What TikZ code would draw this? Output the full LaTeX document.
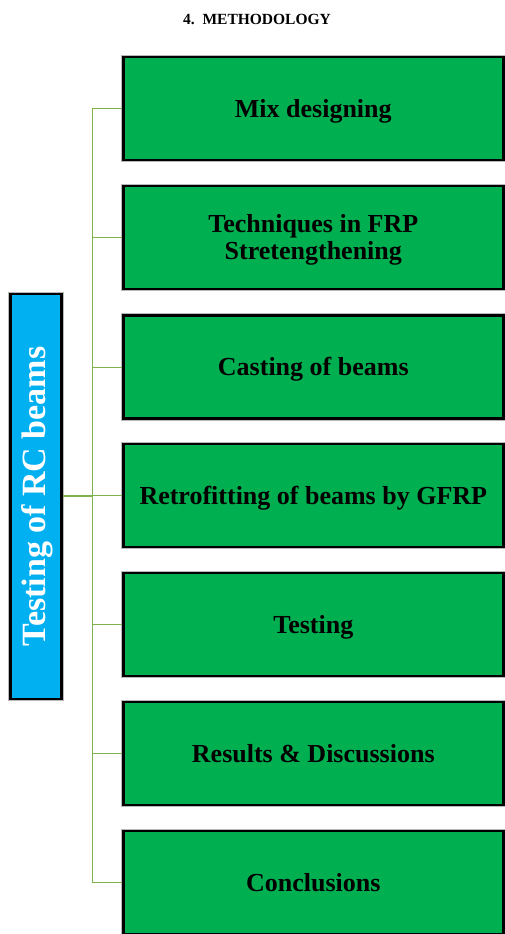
\documentclass[tikz,border=0pt]{standalone}
\usepackage{fontspec}
\setmainfont{Liberation Serif}
\definecolor{boxgreen}{HTML}{00B050}
\definecolor{boxblue}{HTML}{00B0F0}
\definecolor{linegreen}{HTML}{7FB24F}
\tikzset{
  stepbox/.style={draw=black, line width=2.6pt, fill=boxgreen,
    preaction={draw=gray!55, line width=4.6pt},
    minimum width=380pt, minimum height=103pt, inner sep=0pt,
    text height=17.4pt, text depth=0pt,
    font=\bfseries\fontsize{26}{27}\selectfont, align=center, anchor=west},
  mainbox/.style={draw=black, line width=2.6pt, fill=boxblue,
    preaction={draw=gray!55, line width=4.6pt},
    minimum width=51pt, minimum height=405pt, inner sep=0pt},
  conn/.style={draw=linegreen, line width=0.9pt},
  mainconn/.style={draw=linegreen, line width=2pt}
}
\begin{document}
\begin{tikzpicture}[x=1pt,y=-1pt]
\useasboundingbox[fill=white] (0,0) rectangle (504,934);
\node[font=\bfseries\fontsize{15.5}{18}\selectfont] (title) at (257,19) {4.\enspace METHODOLOGY};
\node[mainbox] (main) at (36,496.5) {};
\node[rotate=90, text=white, font=\bfseries\fontsize{34}{38}\selectfont] (maintext) at (37,496.5) {Testing of RC beams};
\node[stepbox] (b1) at (122,108.5) {Mix designing};
\node[stepbox, text height=44.4pt] (b2) at (122,237.5) {Techniques in FRP\\Stretengthening};
\node[stepbox] (b3) at (122,367) {Casting of beams};
\node[stepbox] (b4) at (122,495.5) {Retrofitting of beams by GFRP};
\node[stepbox] (b5) at (122,624.5) {Testing};
\node[stepbox] (b6) at (122,753.5) {Results \& Discussions};
\node[stepbox] (b7) at (122,882.5) {Conclusions};
\coordinate (top) at (92,108.5);
\coordinate (bot) at (92,882.5);
\coordinate (mid) at (92,495.5);
\draw[conn] (top) -- (bot);
\foreach \i in {1,...,7} {
  \draw[conn] (b\i.west -| top) -- (b\i.west);
}
\draw[mainconn] (main.east |- mid) -- (mid);
\end{tikzpicture}
\end{document}
